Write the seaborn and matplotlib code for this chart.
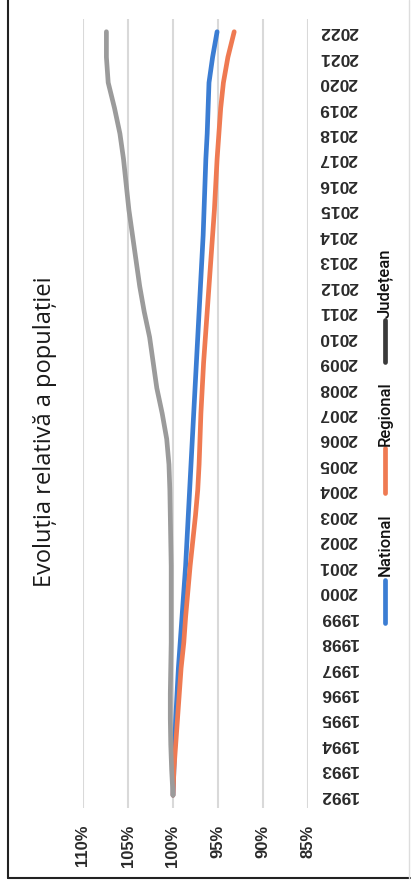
import numpy as np
import pandas as pd
import seaborn as sns
import matplotlib
matplotlib.use("Agg")
import matplotlib.pyplot as plt
from matplotlib.lines import Line2D

# Population index (1992 = 100%), by year
years = list(range(1992, 2023))
national = [100.0, 99.9, 99.8, 99.7, 99.55, 99.4, 99.2, 99.0, 98.8, 98.6,
            98.45, 98.3, 98.15, 98.0, 97.85, 97.7, 97.55, 97.4, 97.25, 97.1,
            96.95, 96.8, 96.65, 96.55, 96.45, 96.35, 96.2, 96.1, 96.0, 95.6,
            95.1]
regional = [100.0, 99.9, 99.7, 99.5, 99.3, 99.1, 98.8, 98.6, 98.35, 98.1,
            97.8, 97.5, 97.25, 97.1, 97.0, 96.9, 96.75, 96.6, 96.4, 96.2,
            96.0, 95.8, 95.6, 95.4, 95.25, 95.1, 94.9, 94.7, 94.4, 93.9,
            93.2]
judetean = [100.0, 100.15, 100.25, 100.3, 100.3, 100.25, 100.2, 100.2, 100.2, 100.2,
            100.25, 100.3, 100.35, 100.45, 100.7, 101.2, 101.8, 102.2, 102.6, 103.2,
            103.7, 104.1, 104.5, 104.9, 105.2, 105.5, 105.9, 106.5, 107.2, 107.4,
            107.4]
series_names = ["National", "Regional", "Județean"]
pct_ticks = [110, 105, 100, 95, 90, 85]
title = "Evoluția relativă a populației"

colors = {"National": "#3b7dd3", "Regional": "#ef7a52", "Județean": "#9b9b9b"}
legend_colors = {"National": "#3b7dd3", "Regional": "#ef7a52", "Județean": "#3a3a3a"}

df = pd.concat([
    pd.DataFrame({"year": years, "value": vals, "series": name})
    for name, vals in zip(series_names, [national, regional, judetean])
], ignore_index=True)

sns.set_theme(style="white")
plt.rcParams["font.family"] = ["Liberation Sans", "DejaVu Sans"]

W, H = 413, 892
fig = plt.figure(figsize=(W / 100, H / 100), dpi=100)
fig.patch.set_facecolor("white")


def fx(px):
    return px / W


def fy(py):
    return 1 - py / H


ax_left, ax_right, ax_top, ax_bottom = 83, 308, 19, 808
ax = fig.add_axes([fx(ax_left), fy(ax_bottom), fx(ax_right - ax_left),
                   (ax_bottom - ax_top) / H])

sns.lineplot(data=df, x="value", y="year", hue="series", orient="y",
             palette=colors, hue_order=series_names, linewidth=3.4,
             legend=False, ax=ax)
for ln in ax.get_lines():
    ln.set_solid_capstyle("round")

ax.set_xlim(110, 85)
ax.set_ylim(1991.5, 2022.5)
ax.set_xlabel("")
ax.set_ylabel("")

ax.set_xticks(pct_ticks)
ax.set_xticklabels([f"{t}%" for t in pct_ticks], rotation=90,
                   fontsize=12, fontweight="bold", color="#2a2a2a")
ax.set_yticks(years)
ax.yaxis.tick_right()
ax.set_yticklabels([str(y) for y in years], rotation=180, va="center",
                   fontsize=12.5, fontweight="bold", color="#2a2a2a")
ax.tick_params(axis="x", length=0, pad=12)
ax.tick_params(axis="y", length=0, pad=8)

ax.grid(False)
for t in pct_ticks:
    ax.axvline(t, color="#d9d9d9", linewidth=1.5, zorder=0)
for s in ax.spines.values():
    s.set_visible(False)
ax.set_facecolor("none")

# Title, vertical
fig.text(fx(45), fy(432), title, rotation=90, ha="center", va="center",
         fontsize=17, family=["Open Sans", "DejaVu Sans"], color="#1a1a1a")

# Legend, vertical, drawn beside the year labels
legend_items = [
    ("National", 580, 623, 545),
    ("Regional", 448, 493, 414),
    ("Județean", 320, 362, 283),
]
for name, y0, y1, yt in legend_items:
    fig.add_artist(Line2D([fx(385), fx(385)], [fy(y1), fy(y0)],
                          transform=fig.transFigure, color=legend_colors[name],
                          linewidth=3.4, solid_capstyle="round"))
    fig.text(fx(385), fy(yt), name, rotation=90, ha="center", va="center",
             fontsize=12, family=["Roboto", "DejaVu Sans"], fontweight="medium",
             color="#111111")

# Outer frame
fig.add_artist(Line2D([fx(8), fx(8)], [fy(0), fy(878)], transform=fig.transFigure,
                      color="#222222", linewidth=1.5))
fig.add_artist(Line2D([fx(8), fx(410)], [fy(878), fy(878)], transform=fig.transFigure,
                      color="#222222", linewidth=1.5))
fig.add_artist(Line2D([fx(409), fx(409)], [fy(0), fy(878)], transform=fig.transFigure,
                      color="#dddddd", linewidth=1.0))

fig.savefig("out.png", dpi=100, facecolor="white")
